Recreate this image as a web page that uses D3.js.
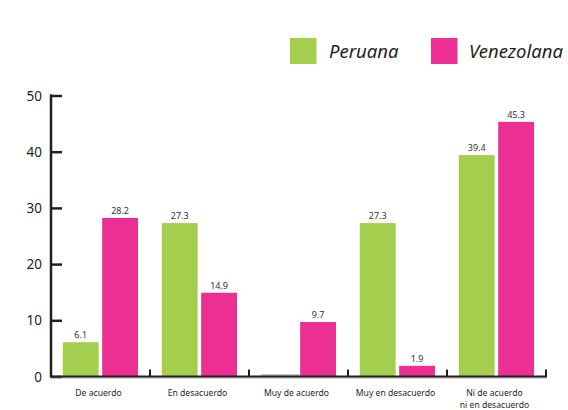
<!DOCTYPE html>
<html><head><meta charset="utf-8">
<script src="https://cdn.jsdelivr.net/npm/d3@7"></script>
<style>body{margin:0;background:#fff}svg{display:block}</style>
</head><body>
<svg id="c" width="568" height="410"></svg>
<script>
const categories = [["De acuerdo"],["En desacuerdo"],["Muy de acuerdo"],["Muy en desacuerdo"],["Ni de acuerdo","ni en desacuerdo"]];
const seriesNames = ["Peruana","Venezolana"];
const peruana = [6.1, 27.3, 0, 27.3, 39.4];
const venezolana = [28.2, 14.9, 9.7, 1.9, 45.3];
const yTicks = [0,10,20,30,40,50];
const colors = ["#A4CE4E","#EB2F93"];

const svg = d3.select("#c");
const font = "'Noto Sans', sans-serif";
const x0 = 51, x1 = 546, yTop = 95.5, yBase = 376.5;
const x = d3.scaleBand().domain(d3.range(categories.length)).range([x0, x1]).paddingInner(0).paddingOuter(0);
const xs = d3.scaleBand().domain([0,1]).range([11.8, x.bandwidth()-12]).paddingInner(0.09);
const y = d3.scaleLinear().domain([0,50]).range([yBase, yTop]);
const series = [peruana, venezolana];

// bars
series.forEach((vals, si) => {
  svg.append("g").selectAll("rect").data(vals).join("rect")
    .attr("x", (d,i) => x(i) + xs(si))
    .attr("y", d => y(d))
    .attr("width", xs.bandwidth())
    .attr("height", d => yBase - y(d))
    .attr("fill", colors[si]);
  svg.append("g").selectAll("text").data(vals.map((v,i)=>({v,i})).filter(d=>d.v>0)).join("text")
    .attr("x", d => x(d.i) + xs(si) + xs.bandwidth()/2)
    .attr("y", d => y(d.v) - 4)
    .attr("text-anchor","middle")
    .attr("font-family", font).attr("font-size", 9).attr("fill","#333")
    .text(d => d.v.toFixed(1));
});
// zero-value bars shown as thin line
series.forEach((vals, si) => {
  svg.append("g").selectAll("line").data(vals.map((v,i)=>({v,i})).filter(d=>d.v===0)).join("line")
    .attr("x1", d => x(d.i) + xs(si)).attr("x2", d => x(d.i) + xs(si) + xs.bandwidth() + 3)
    .attr("y1", yBase - 1.5).attr("y2", yBase - 1.5)
    .attr("stroke", "#8a8f5c").attr("stroke-width", 1);
});

// y axis
const yAxis = d3.axisRight(y).tickValues(yTicks).tickSize(11).tickFormat("");
const gy = svg.append("g").attr("transform", `translate(${x0},0)`).call(yAxis);
gy.select(".domain").remove();
gy.selectAll(".tick line").attr("stroke","#231f20").attr("stroke-width",2.5);
svg.append("line").attr("x1",x0).attr("x2",x0).attr("y1",yTop-1.2).attr("y2",yBase+1.2)
  .attr("stroke","#231f20").attr("stroke-width",2.5);
svg.append("g").selectAll("text").data(yTicks).join("text")
  .attr("x", 42).attr("y", d => y(d) + 5)
  .attr("text-anchor","end").attr("font-family", font).attr("font-size", 13.5).attr("fill","#231f20")
  .text(d => d);

// x axis
svg.append("line").attr("x1",x0).attr("x2",x1+1).attr("y1",yBase+1.5).attr("y2",yBase+1.5)
  .attr("stroke","#aaa").attr("stroke-width",1);
svg.append("line").attr("x1",x0).attr("x2",x1+1).attr("y1",yBase).attr("y2",yBase)
  .attr("stroke","#231f20").attr("stroke-width",2);
const bounds = d3.range(1, categories.length+1).map(i => x0 + i*x.bandwidth());
svg.append("g").selectAll("line").data(bounds).join("line")
  .attr("x1", d=>d).attr("x2", d=>d).attr("y1", yBase-7).attr("y2", yBase)
  .attr("stroke","#231f20").attr("stroke-width",2);
const gl = svg.append("g");
categories.forEach((lines, i) => {
  const t = gl.append("text").attr("text-anchor","middle")
    .attr("font-family", font).attr("font-size", 8.6).attr("fill","#231f20");
  lines.forEach((l, k) => t.append("tspan").attr("x", x(i)+x.bandwidth()/2 - 2).attr("y", 395.5 + k*12).text(l));
});

// legend
const leg = [{x:290, tx:329},{x:431, tx:469}];
seriesNames.forEach((n, i) => {
  svg.append("rect").attr("x", leg[i].x).attr("y", 38).attr("width", 26.5).attr("height", 26).attr("fill", colors[i]);
  svg.append("text").attr("x", leg[i].tx).attr("y", 57.5).attr("font-family", font).attr("font-style","italic")
    .attr("font-size", 18.5).attr("fill","#231f20").text(n);
});
</script>
</body></html>
